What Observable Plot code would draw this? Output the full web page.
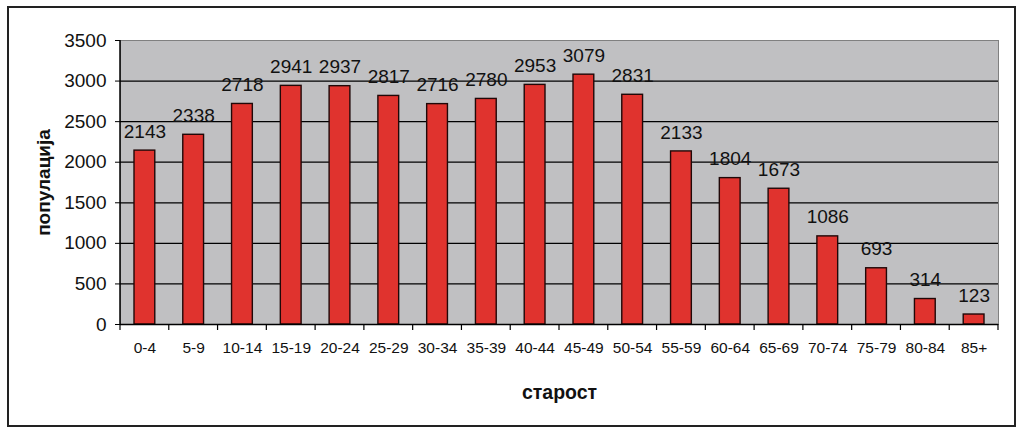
<!DOCTYPE html>
<html><head><meta charset="utf-8">
<script src="https://cdn.jsdelivr.net/npm/d3@7"></script>
<script src="https://cdn.jsdelivr.net/npm/@observablehq/plot@0.6"></script>
<style>
body{margin:0;background:#fff;}
#wrap{position:relative;width:1024px;height:434px;overflow:hidden;}
#border{position:absolute;left:7px;top:6px;width:1005px;height:417px;border:2px solid #222;pointer-events:none;}
</style></head><body><div id="wrap"><div id="border"></div></div>
<script>
const ageGroups = ["0-4","5-9","10-14","15-19","20-24","25-29","30-34","35-39","40-44","45-49","50-54","55-59","60-64","65-69","70-74","75-79","80-84","85+"];
const population = [2143,2338,2718,2941,2937,2817,2716,2780,2953,3079,2831,2133,1804,1673,1086,693,314,123];
const yTicks = [0,500,1000,1500,2000,2500,3000,3500];
const yTitle = "популација";
const xTitle = "старост";

const data = ageGroups.map((a, i) => ({age: a, pop: population[i]}));

// category boundary ticks below the x axis (bands have no padding, so band edges are boundaries)
function boundaryTicks(index, scales, values, dims) {
  const s = scales.x;
  const bw = typeof s.bandwidth === "function" ? s.bandwidth() : s.bandwidth;
  const y0 = dims.height - dims.marginBottom;
  const xs = ageGroups.map(c => s(c));
  xs.push(s(ageGroups[ageGroups.length - 1]) + bw);
  const g = d3.create("svg:g").attr("stroke", "#000").attr("stroke-width", 1.2);
  for (const x of xs) g.append("line").attr("x1", x).attr("x2", x).attr("y1", y0).attr("y2", y0 + 6);
  return g.node();
}
// left axis line
function leftAxisLine(index, scales, values, dims) {
  return d3.create("svg:line")
    .attr("x1", dims.marginLeft).attr("x2", dims.marginLeft)
    .attr("y1", dims.marginTop).attr("y2", dims.height - dims.marginBottom)
    .attr("stroke", "#000").attr("stroke-width", 1.5).node();
}

const chart = Plot.plot({
  width: 1024,
  height: 434,
  marginLeft: 120,
  marginRight: 26,
  marginTop: 40,
  marginBottom: 110,
  style: {fontFamily: "'Liberation Sans', Arial, sans-serif", color: "#111", background: "transparent"},
  x: {domain: ageGroups, padding: 0, round: false, label: null},
  y: {domain: [0, 3500], label: null},
  marks: [
    Plot.frame({fill: "#c0c0c2", stroke: "#808080"}),
    Plot.gridY(yTicks.filter(v => v > 0 && v < 3500), {stroke: "#000", strokeOpacity: 1, strokeWidth: 1.2}),
    Plot.barY(data, {x: "age", y: "pop", insetLeft: 14, insetRight: 14, fill: "#e0332e", stroke: "#200808", strokeWidth: 1.4}),
    Plot.ruleY([0], {stroke: "#000", strokeWidth: 1.5}),
    leftAxisLine,
    boundaryTicks,
    Plot.text(data, {x: "age", y: "pop", text: d => String(d.pop), dy: -19, fontSize: 19, fill: "#111"}),
    Plot.axisY({ticks: yTicks, tickFormat: d => String(d), tickSize: 5, tickPadding: 9, fontSize: 19, label: null, stroke: "#000"}),
    Plot.axisX({tickSize: 0, tickPadding: 17, fontSize: 15.5, label: null}),
    Plot.text([yTitle], {frameAnchor: "left", textAnchor: "middle", lineAnchor: "middle", rotate: -90, dx: -77, fontWeight: "bold", fontSize: 19, fill: "#111"}),
    Plot.text([xTitle], {frameAnchor: "bottom", textAnchor: "middle", lineAnchor: "middle", dy: 68, fontWeight: "bold", fontSize: 19.5, fill: "#111"})
  ]
});
document.getElementById("wrap").prepend(chart);
</script>
</body></html>
